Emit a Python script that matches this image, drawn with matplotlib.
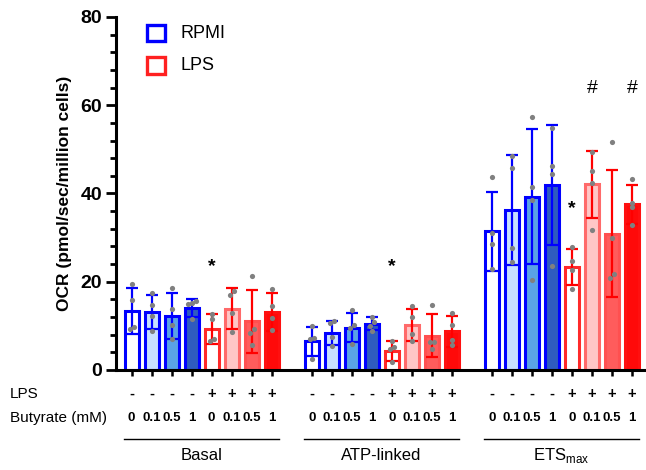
import numpy as np
import matplotlib
matplotlib.use('Agg')
import matplotlib.pyplot as plt
from matplotlib.patches import Rectangle
import matplotlib.transforms as mtransforms

plt.rcParams['font.family'] = ['Liberation Sans', 'DejaVu Sans']

# data
groups = ['Basal', 'ATP-linked', r'ETS$_{\mathregular{max}}$']
lps_row = ['-', '-', '-', '-', '+', '+', '+', '+']
butyrate_row = ['0', '0.1', '0.5', '1', '0', '0.1', '0.5', '1']
legend_labels = ['RPMI', 'LPS']

basal_mean = [13.4, 13.2, 12.3, 14.1, 9.3, 13.9, 11.0, 13.2]
basal_sd = [5.2, 3.8, 5.2, 2.0, 3.3, 4.6, 7.1, 4.3]
basal_pts = [[19.4, 15.8, 9.7, 9.3], [17.4, 14.7, 12.3, 8.8], [18.6, 13.9, 10.3, 7.0],
             [15.6, 15.1, 15.0, 11.5], [12.6, 11.6, 7.0, 6.6], [17.9, 17.1, 13.0, 8.6],
             [21.3, 9.3, 8.4, 5.6], [18.3, 14.5, 11.7, 9.0]]

atp_mean = [6.5, 8.4, 9.6, 10.5, 4.3, 10.2, 7.8, 8.8]
atp_sd = [3.3, 2.8, 3.3, 1.5, 2.2, 3.7, 4.8, 3.5]
atp_pts = [[9.9, 7.3, 7.0, 2.5], [11.1, 10.6, 7.4, 5.5], [13.5, 10.2, 9.5, 5.8],
           [12.0, 10.9, 10.0, 8.9], [6.6, 5.3, 4.7, 1.8], [14.5, 12.0, 8.1, 6.5],
           [14.8, 6.4, 6.4, 4.7], [13.0, 10.2, 6.8, 5.6]]

ets_mean = [31.4, 36.3, 39.3, 42.0, 23.3, 42.1, 30.9, 37.6]
ets_sd = [9.0, 12.5, 15.3, 13.6, 4.1, 7.6, 14.4, 4.4]
ets_pts = [[43.7, 31.0, 28.6, 22.8], [48.4, 45.8, 27.6, 24.4], [57.4, 41.5, 38.6, 20.5],
           [54.9, 46.3, 44.4, 23.5], [27.8, 24.8, 22.7, 18.3], [49.5, 45.1, 42.3, 31.7],
           [51.6, 29.9, 21.7, 20.8], [43.3, 37.9, 36.9, 32.9]]

# significance marks: (group, bar, y, symbol)
marks = [(0, 4, 23.5, '*'), (1, 4, 23.5, '*'), (2, 4, 36.5, '*'),
         (2, 5, 63.8, '#'), (2, 7, 63.8, '#')]

fills = ['white', '#C8E0FF', '#5AA2E6', '#2F5BBF',
         'white', '#FFC6C6', '#FF5C5C', '#FF0A0A']
edges = ['#0000FF'] * 4 + ['#FF2A2A', '#FF6A6A', '#FF5050', '#FF1010']
errc = ['#0000FF'] * 4 + ['#FF0000'] * 4


def spread(vals, step=0.2, tol=1.0):
    # horizontal offsets so that close points sit side by side
    vals = np.asarray(vals)
    off = np.zeros(len(vals))
    order = np.argsort(vals)
    clusters = [[order[0]]]
    for i in order[1:]:
        if vals[i] - vals[clusters[-1][-1]] < tol:
            clusters[-1].append(i)
        else:
            clusters.append([i])
    for c in clusters:
        n = len(c)
        for k, i in enumerate(c):
            off[i] = (k - (n - 1) / 2) * step
    return off


fig = plt.figure(figsize=(6.46, 4.70), dpi=100)
ax = fig.add_axes([116 / 646, 100 / 470, 528 / 646, 353 / 470])

means = [basal_mean, atp_mean, ets_mean]
sds = [basal_sd, atp_sd, ets_sd]
pts = [basal_pts, atp_pts, ets_pts]

positions = []
for g in range(3):
    x = np.arange(8) + g * 9
    positions.append(x)
    ax.bar(x, means[g], width=0.7, color=fills, edgecolor=edges, linewidth=2.2, zorder=2)
    for i in range(8):
        ax.errorbar(x[i], means[g][i], yerr=sds[g][i], color=errc[i], elinewidth=1.6,
                    capsize=4, capthick=1.6, zorder=3)
        off = spread(pts[g][i])
        ax.scatter(x[i] + off, pts[g][i], s=14, color='#808080', zorder=4, linewidths=0)

for g, b, y, s in marks:
    ax.text(positions[g][b], y, s, ha='center', va='center', fontsize=14,
            color='black', fontweight='bold' if s == '*' else 'normal')

allx = np.concatenate(positions)
ax.set_xlim(-0.78, 25.6)
ax.set_ylim(0, 80)
ax.set_yticks([0, 20, 40, 60, 80])
ax.set_yticks(np.arange(0, 81, 4), minor=True)
ax.set_xticks(allx)
ax.set_xticklabels([])
ax.tick_params(axis='y', which='major', length=7, width=2, labelsize=14, pad=3)
ax.tick_params(axis='y', which='minor', length=4, width=2)
ax.tick_params(axis='x', length=4, width=1.8)
for lab in ax.get_yticklabels():
    lab.set_fontweight('bold')
ax.spines['top'].set_visible(False)
ax.spines['right'].set_visible(False)
ax.spines['left'].set_linewidth(2.2)
ax.spines['bottom'].set_linewidth(2.2)
ax.set_ylabel('OCR (pmol/sec/million cells)', fontsize=12.5, fontweight='bold', labelpad=6)

# rows below the axis
trans = mtransforms.blended_transform_factory(ax.transData, ax.transAxes)
for g in range(3):
    for i in range(8):
        ax.text(positions[g][i], -0.068, lps_row[i], transform=trans, ha='center', va='center',
                fontsize=10.5, fontweight='bold')
        ax.text(positions[g][i], -0.136, butyrate_row[i], transform=trans, ha='center',
                va='center', fontsize=9.5, fontweight='bold')
    x0 = positions[g][0] - 0.38
    x1 = positions[g][-1] + 0.35
    ax.plot([x0, x1], [-0.195, -0.195], transform=trans, color='black', lw=1,
            clip_on=False)
    ax.text((x0 + x1) / 2, -0.243, groups[g], transform=trans, ha='center', va='center',
            fontsize=12)

fig.text(10 / 646, 1 - 394 / 470, 'LPS', ha='left', va='center', fontsize=11)
fig.text(10 / 646, 1 - 418 / 470, 'Butyrate (mM)', ha='left', va='center', fontsize=11)

# legend drawn by hand so it sits where the original one does
for k, (lab, col) in enumerate(zip(legend_labels, ['#0000FF', '#FF2020'])):
    yc = 33 + 32.5 * k
    fig.patches.append(Rectangle((147 / 646, 1 - (yc + 8) / 470), 18 / 646, 16 / 470,
                                 transform=fig.transFigure, facecolor='white',
                                 edgecolor=col, linewidth=2.4))
    fig.text(180 / 646, 1 - yc / 470, lab, ha='left', va='center', fontsize=13)

fig.savefig('out.png', dpi=100)
